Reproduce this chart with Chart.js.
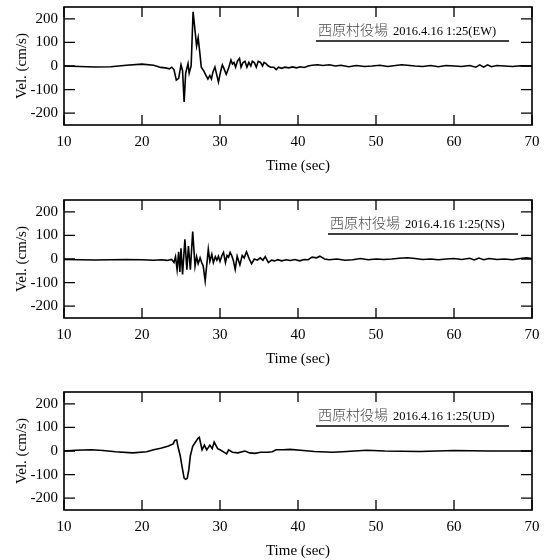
<!DOCTYPE html>
<html>
<head>
<meta charset="utf-8">
<script src="https://cdn.jsdelivr.net/npm/chart.js@4.4.1/dist/chart.umd.min.js"></script>
<style>
  body { margin: 0; background: #fff; }
  canvas { position: absolute; left: 0; }
</style>
</head>
<body>
<canvas id="chartEW" width="549" height="193" style="top:0px"></canvas>
<canvas id="chartNS" width="549" height="193" style="top:193px"></canvas>
<canvas id="chartUD" width="549" height="193" style="top:385px"></canvas>
<script>
// tick labels / text
const xTicks = [10, 20, 30, 40, 50, 60, 70];
const yTicks = [-200, -100, 0, 100, 200];
const stationName = '西原村役場';
const eventTime = '2016.4.16 1:25';

// velocity traces [time (sec), vel (cm/s)]
const traceEW = [
  [10, 0], [12, -2], [14, -4], [16, -3], [18, 3], [20, 8], [21.5, 3], [22.4, -6], [23, -8], [23.5, -12],
  [23.8, -5], [24.1, -15], [24.4, -60], [24.7, -52], [25.0, 5], [25.2, -20], [25.4, -152], [25.6, -30],
  [25.9, 10], [26.05, -30], [26.3, 0], [26.55, 230], [26.8, 150], [27.0, 85], [27.2, 120], [27.4, 60],
  [27.6, -5], [27.9, -20], [28.2, -40], [28.45, -55], [28.7, -40], [28.9, -55], [29.1, -25], [29.35, -5],
  [29.6, -40], [29.8, -68], [30.1, -20], [30.3, 5], [30.5, -10], [30.8, -35], [31.1, -10], [31.4, 25],
  [31.6, 8], [31.8, 15], [32.0, -5], [32.25, 22], [32.5, 32], [32.7, -5], [32.95, 15], [33.2, 20],
  [33.45, -5], [33.7, 15], [33.95, 0], [34.15, 20], [34.4, 15], [34.65, -5], [34.9, 20], [35.2, 15],
  [35.45, 0], [35.65, 15], [35.9, 10], [36.2, 0], [36.5, -5], [36.9, -5], [37.2, -15], [37.5, -5],
  [37.9, -10], [38.3, -5], [38.8, -8], [39.3, -4], [39.8, -8], [40.3, -3], [40.8, -6], [41.3, 0],
  [41.8, 3], [42.5, 5], [43.2, 2], [44, 5], [44.8, 0], [45.5, 3], [46.5, -3], [47.5, 2], [48.5, -2],
  [49.5, 0], [50.5, 3], [51.5, -2], [52.5, 2], [53.3, 5], [54, 3], [55, 0], [56, -2], [57, 2], [58, -3],
  [59, 2], [60, 0], [61, -2], [62, 2], [62.8, -5], [63.3, 5], [63.8, -5], [64.3, 5], [64.8, -3],
  [65.5, 2], [66.5, 0], [67.5, -2], [68.5, 1], [70, 0]
];
const traceNS = [
  [10, -2], [12, -3], [14, -4], [16, -3], [18, -2], [20, -3], [21.5, -5], [22.5, -3], [23.2, -6],
  [23.8, -2], [24.1, -15], [24.3, 10], [24.5, -45], [24.7, 30], [24.85, -55], [25.0, 45], [25.2, -65],
  [25.5, 83], [25.75, -45], [25.95, 55], [26.2, -45], [26.5, 116], [26.8, -30], [27.0, 10], [27.2, -20],
  [27.45, 5], [27.65, -15], [27.85, -30], [28.1, -93], [28.5, 42], [28.7, -10], [28.95, 20], [29.15, -15],
  [29.4, 10], [29.6, -5], [29.8, 12], [30.0, -10], [30.25, 15], [30.45, 28], [30.7, -15], [30.9, 15],
  [31.1, 8], [31.3, 28], [31.5, 15], [31.7, -5], [31.95, -44], [32.2, 12], [32.55, -25], [32.85, 15],
  [33.1, 5], [33.4, 31], [33.75, 0], [34.05, -20], [34.4, 0], [34.8, -5], [35.15, 5], [35.5, -5],
  [35.8, 10], [36.2, -15], [36.6, -5], [37, -8], [37.4, -3], [37.9, -8], [38.5, -3], [39, -6],
  [39.6, -2], [40.2, -8], [40.8, -2], [41.3, -3], [41.8, 8], [42.4, 5], [42.8, 12], [43.4, 0], [44, -3],
  [45, 0], [46, -5], [47, -3], [48, 2], [49, -3], [50, 0], [51, -2], [52, 0], [53, 3], [54, 5], [55, 2],
  [56, -2], [57, 0], [58, -3], [59, 0], [60, 2], [61, -2], [62, 3], [62.6, -4], [63.2, 4], [63.8, -3],
  [64.5, 2], [65.5, -2], [66.5, 0], [67.5, -3], [68.5, 2], [69.3, 5], [70, 2]
];
const traceUD = [
  [10, 0], [11.5, 3], [13.5, 5], [15, 2], [16.6, -3], [18.8, -8], [20.6, -3], [21.5, 5], [22.4, 12],
  [23.3, 20], [24, 30], [24.2, 45], [24.45, 47], [24.6, 20], [24.9, -20], [25.1, -60], [25.4, -115],
  [25.6, -120], [25.8, -116], [26, -80], [26.2, -20], [26.5, 20], [26.8, 35], [27.2, 55], [27.35, 58],
  [27.5, 35], [27.7, 5], [28, 25], [28.3, 5], [28.7, 25], [29, 10], [29.25, 38], [29.7, 10], [30, 5],
  [30.5, -5], [30.85, -12], [31.1, 5], [31.6, -5], [32.3, -8], [33.2, 0], [33.8, -8], [34.5, -10],
  [35.2, -5], [36.1, -5], [36.7, -3], [37.2, 5], [38.1, 5], [39, 7], [40.3, 3], [42.1, -2], [44.4, -5],
  [45.7, -3], [48.8, 3], [51.1, 0], [55.6, -2], [60, 2], [64.5, 0], [70, 0]
];

const boxTicks = {
  id: 'boxTicks',
  afterDatasetsDraw(chart, args, opts) {
    const { ctx, chartArea: a, scales: { x, y } } = chart;
    ctx.save();
    ctx.strokeStyle = '#000';
    ctx.lineWidth = 1.3;
    ctx.beginPath();
    xTicks.forEach(v => {
      const px = x.getPixelForValue(v);
      ctx.moveTo(px, a.top); ctx.lineTo(px, a.top + 10);
      ctx.moveTo(px, a.bottom); ctx.lineTo(px, a.bottom - 10);
    });
    yTicks.forEach(v => {
      const py = y.getPixelForValue(v);
      ctx.moveTo(a.left, py); ctx.lineTo(a.left + 11, py);
      ctx.moveTo(a.right, py); ctx.lineTo(a.right - 11, py);
    });
    ctx.stroke();
    ctx.lineWidth = 1.6;
    ctx.strokeRect(a.left, a.top, a.right - a.left, a.bottom - a.top);

    // station label with underline
    const tx = a.left + opts.dx;
    ctx.fillStyle = '#444';
    ctx.textBaseline = 'alphabetic';
    ctx.font = '300 14px "Noto Sans CJK JP"';
    ctx.fillText(stationName, tx, a.top + 28);
    const w = ctx.measureText(stationName).width;
    ctx.fillStyle = '#000';
    ctx.font = '12.5px "Liberation Serif"';
    ctx.fillText(eventTime + '(' + opts.comp + ')', tx + w + 5, a.top + 28);
    ctx.lineWidth = 1.3;
    ctx.beginPath();
    ctx.moveTo(tx - 2, a.top + 34);
    ctx.lineTo(a.left + opts.lineEnd, a.top + 34);
    ctx.stroke();
    ctx.restore();
  }
};

function makeChart(id, trace, comp, dx, lineEnd) {
  return new Chart(document.getElementById(id), {
    type: 'line',
    data: {
      datasets: [{
        data: trace.map(p => ({ x: p[0], y: p[1] })),
        borderColor: '#000',
        borderWidth: 1.6,
        pointRadius: 0,
        tension: 0
      }]
    },
    options: {
      responsive: false,
      animation: false,
      layout: { padding: { top: 7, right: 17, left: 0, bottom: 0 } },
      plugins: {
        legend: { display: false },
        tooltip: { enabled: false },
        boxTicks: { comp: comp, dx: dx, lineEnd: lineEnd }
      },
      scales: {
        x: {
          type: 'linear',
          min: 10,
          max: 70,
          afterFit: s => { s.height = 68; s.paddingLeft = 0; s.paddingRight = 0; },
          afterBuildTicks: s => { s.ticks = xTicks.map(v => ({ value: v })); },
          grid: { display: false, drawTicks: false },
          border: { display: false },
          ticks: { color: '#000', padding: 8, font: { family: 'Liberation Serif', size: 15 } },
          title: {
            display: true, text: 'Time (sec)', color: '#000',
            padding: { top: 0, bottom: 18 },
            font: { family: 'Liberation Serif', size: 15 }
          }
        },
        y: {
          min: -250,
          max: 250,
          afterFit: s => { s.width = 64; s.paddingTop = 0; s.paddingBottom = 0; },
          afterBuildTicks: s => { s.ticks = yTicks.map(v => ({ value: v })); },
          grid: { display: false, drawTicks: false },
          border: { display: false },
          ticks: { color: '#000', padding: 6, font: { family: 'Liberation Serif', size: 15 } },
          title: {
            display: true, text: 'Vel. (cm/s)', color: '#000',
            padding: { top: 13, bottom: 0 },
            font: { family: 'Liberation Serif', size: 15 }
          }
        }
      }
    },
    plugins: [boxTicks]
  });
}

makeChart('chartEW', traceEW, 'EW', 254, 445);
makeChart('chartNS', traceNS, 'NS', 266, 454);
makeChart('chartUD', traceUD, 'UD', 254, 445);
</script>
</body>
</html>
